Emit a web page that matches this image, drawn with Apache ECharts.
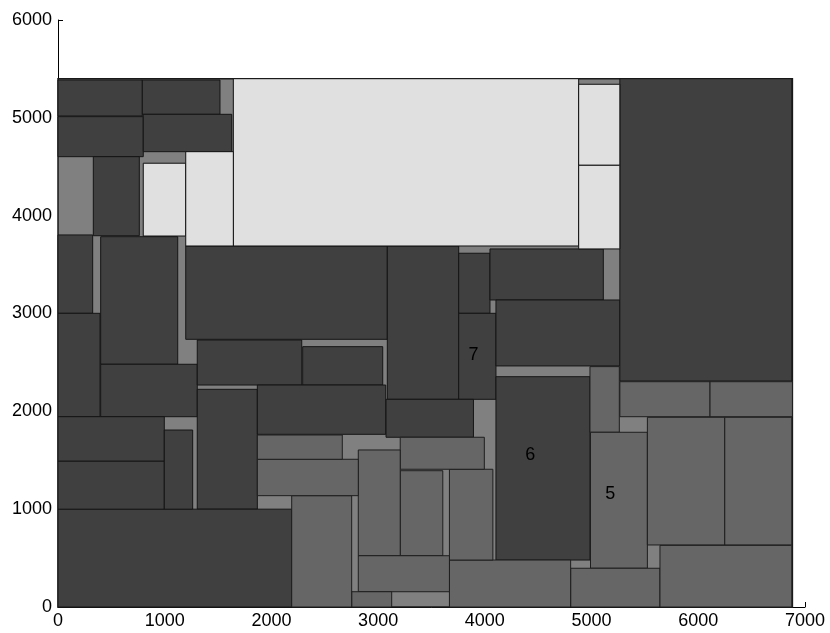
<!DOCTYPE html>
<html>
<head>
<meta charset="utf-8">
<script src="https://cdn.jsdelivr.net/npm/echarts@6/dist/echarts.min.js"></script>
<style>html,body{margin:0;padding:0;background:#fff}#c{width:830px;height:633px}</style>
</head>
<body>
<div id="c"></div>
<script>
// Axis ticks
const xTicks = [0, 1000, 2000, 3000, 4000, 5000, 6000, 7000];
const yTicks = [0, 1000, 2000, 3000, 4000, 5000, 6000];

// Container (background) rectangle: [x0, y0, x1, y1]
const containerRect = [[0, 0, 6882, 5400]];

// Dark rectangles [x0, y0, x1, y1]
const darkRects = [
  [0, 5019, 790, 5387],
  [790, 5036, 1518, 5387],
  [0, 4603, 799, 5012],
  [799, 4654, 1628, 5036],
  [331, 3795, 762, 4603],
  [0, 3002, 325, 3803],
  [400, 2481, 1122, 3785],
  [0, 1945, 394, 3002],
  [400, 1945, 1305, 2481],
  [1197, 2736, 3086, 3690],
  [1305, 2269, 2284, 2729],
  [2293, 2269, 3043, 2661],
  [1305, 1000, 1868, 2225],
  [1868, 1765, 3071, 2269],
  [3086, 2123, 3755, 3690],
  [3755, 3002, 4048, 3616],
  [4048, 3138, 5110, 3660],
  [3755, 2123, 4104, 3002],
  [4104, 2464, 5265, 3138],
  [4104, 480, 4985, 2354],
  [3074, 1735, 3893, 2123],
  [5265, 2310, 6876, 5400],
  [0, 0, 2190, 1000],
  [0, 1000, 996, 1492],
  [0, 1492, 996, 1945],
  [996, 1000, 1262, 1809]
];

// Light rectangles
const lightRects = [
  [1643, 3690, 4879, 5400],
  [799, 3792, 1197, 4536],
  [1197, 3690, 1643, 4654],
  [4879, 4515, 5265, 5343],
  [4879, 3660, 5265, 4515]
];

// Medium rectangles
const mediumRects = [
  [5265, 1945, 6110, 2303],
  [6110, 1945, 6882, 2303],
  [4985, 1786, 5260, 2457],
  [4990, 396, 5523, 1786],
  [5523, 634, 6248, 1939],
  [6248, 634, 6876, 1939],
  [4804, 0, 5641, 396],
  [5641, 0, 6876, 630],
  [3668, 0, 4804, 480],
  [3668, 480, 4075, 1408],
  [3207, 1408, 3995, 1735],
  [3207, 524, 3606, 1393],
  [2814, 524, 3207, 1605],
  [2814, 156, 3668, 524],
  [2752, 0, 3127, 156],
  [2190, 0, 2752, 1138],
  [1868, 1138, 2814, 1510],
  [1868, 1510, 2664, 1758]
];

// Text labels [x, y, text]
const labelPoints = [
  [3893, 2571, '7'],
  [4426, 1551, '6'],
  [5175, 1153, '5']
];

const FONT = 'Liberation Sans, Arial, Helvetica, sans-serif';

function rectSeries(data, fill, stroke, lw) {
  return {
    type: 'custom',
    data: data,
    encode: { x: [0, 2], y: [1, 3] },
    silent: true,
    renderItem: function (params, api) {
      const p0 = api.coord([api.value(0), api.value(1)]);
      const p1 = api.coord([api.value(2), api.value(3)]);
      return {
        type: 'rect',
        shape: { x: p0[0], y: p1[1], width: p1[0] - p0[0], height: p0[1] - p1[1] },
        style: { fill: fill, stroke: stroke, lineWidth: lw }
      };
    }
  };
}

const plain = function (v) { return String(v); };

const chart = echarts.init(document.getElementById('c'), null, { renderer: 'canvas' });
chart.setOption({
  animation: false,
  backgroundColor: '#ffffff',
  grid: { left: 58, right: 25, top: 20, bottom: 26, containLabel: false },
  xAxis: {
    type: 'value', min: xTicks[0], max: xTicks[xTicks.length - 1], interval: 1000,
    axisLine: { show: true, lineStyle: { color: '#000', width: 1 } },
    axisTick: { show: true, inside: true, length: 5, lineStyle: { color: '#000' } },
    axisLabel: { color: '#000', fontSize: 18, fontFamily: FONT, margin: 5, formatter: plain },
    splitLine: { show: false }
  },
  yAxis: {
    type: 'value', min: yTicks[0], max: yTicks[yTicks.length - 1], interval: 1000,
    axisLine: { show: true, lineStyle: { color: '#000', width: 1 } },
    axisTick: { show: true, inside: true, length: 5, lineStyle: { color: '#000' } },
    axisLabel: { color: '#000', fontSize: 18, fontFamily: FONT, margin: 6, formatter: plain },
    splitLine: { show: false }
  },
  series: [
    rectSeries(containerRect, '#808080', '#1a1a1a', 1.5),
    rectSeries(darkRects, '#404040', '#151515', 1),
    rectSeries(mediumRects, '#666666', '#1e1e1e', 1),
    rectSeries(lightRects, '#e0e0e0', '#111111', 1),
    {
      type: 'custom',
      data: labelPoints,
      encode: { x: 0, y: 1 },
      silent: true,
      z: 5,
      renderItem: function (params, api) {
        const p = api.coord([api.value(0), api.value(1)]);
        return {
          type: 'text',
          style: {
            x: p[0], y: p[1], text: labelPoints[params.dataIndex][2],
            fill: '#000', font: '18px ' + FONT, align: 'center', verticalAlign: 'middle'
          }
        };
      }
    }
  ]
});
</script>
</body>
</html>
